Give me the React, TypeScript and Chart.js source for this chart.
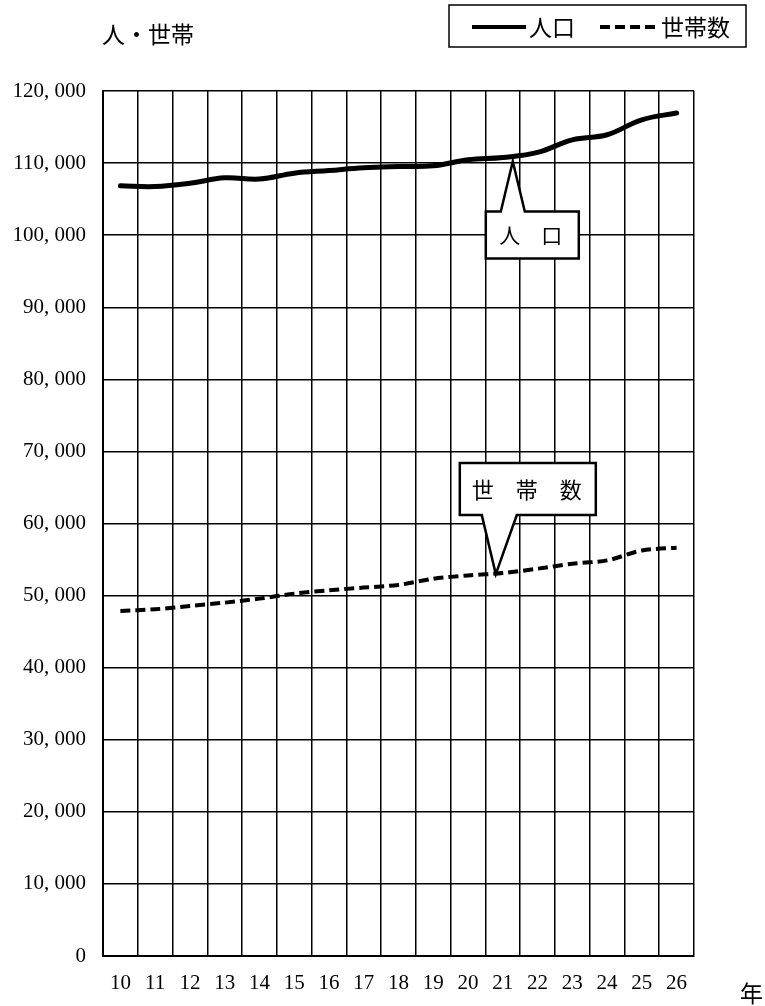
import { useEffect, useRef } from 'react';
import { Chart, registerables } from 'chart.js';

Chart.register(...registerables);

const years = ['10', '11', '12', '13', '14', '15', '16', '17', '18', '19', '20', '21', '22', '23', '24', '25', '26'];
const population = [106850, 106750, 107200, 107950, 107780, 108600, 108970, 109350, 109520, 109620, 110450, 110780, 111480, 113230, 113930, 116010, 116950];
const households = [47860, 48100, 48560, 49020, 49580, 50270, 50740, 51110, 51480, 52330, 52800, 53120, 53730, 54420, 54880, 56260, 56640];
const yMin = 0;
const yMax = 120000;
const yStep = 10000;
const popLabel = '人口';
const hhLabel = '世帯数';
const yTitle = '人・世帯';
const xTitle = '年';
const calloutIndex = 11;

const JP = '"Noto Sans CJK JP", "Noto Sans CJK SC", sans-serif';
const SERIF = '"Liberation Serif", "DejaVu Serif", serif';

export default function App() {
  const ref = useRef<HTMLCanvasElement>(null);

  useEffect(() => {
    const canvas = ref.current;
    if (!canvas) return;

    const overlay = {
      id: 'overlay',
      afterDatasetsDraw(chart: any) {
        const ctx = chart.ctx as CanvasRenderingContext2D;
        const xs = chart.scales.x;
        const ys = chart.scales.y;
        ctx.save();

        // Axis titles
        ctx.fillStyle = '#000';
        ctx.font = `23px ${JP}`;
        ctx.textBaseline = 'middle';
        ctx.textAlign = 'left';
        ctx.fillText(yTitle, 102, 34);
        ctx.fillText(xTitle, 740, 993);

        // Legend box
        ctx.lineWidth = 1.5;
        ctx.strokeStyle = '#000';
        ctx.strokeRect(449, 5, 297, 42);
        ctx.lineWidth = 4;
        ctx.beginPath();
        ctx.moveTo(472, 27);
        ctx.lineTo(526, 27);
        ctx.stroke();
        ctx.setLineDash([10, 5]);
        ctx.beginPath();
        ctx.moveTo(600, 27);
        ctx.lineTo(658, 27);
        ctx.stroke();
        ctx.setLineDash([]);
        ctx.font = `23px ${JP}`;
        ctx.fillText(popLabel, 529, 27);
        ctx.fillText(hhLabel, 661, 27);

        // Population callout
        const pX = xs.getPixelForValue(calloutIndex) + 10;
        const pY = ys.getPixelForValue(population[calloutIndex]) + 4;
        ctx.lineWidth = 2.5;
        ctx.lineJoin = 'miter';
        ctx.fillStyle = '#fff';
        ctx.beginPath();
        ctx.moveTo(pX - 27, pY + 50);
        ctx.lineTo(pX - 12, pY + 50);
        ctx.lineTo(pX, pY);
        ctx.lineTo(pX + 12, pY + 50);
        ctx.lineTo(pX + 66, pY + 50);
        ctx.lineTo(pX + 66, pY + 97);
        ctx.lineTo(pX - 27, pY + 97);
        ctx.closePath();
        ctx.fill();
        ctx.stroke();
        ctx.fillStyle = '#000';
        ctx.font = `21px ${JP}`;
        ctx.textAlign = 'center';
        ctx.fillText('人\u3000口', pX + 18, pY + 74);

        // Household callout
        const hX = xs.getPixelForValue(calloutIndex) - 7;
        const hY = ys.getPixelForValue(households[calloutIndex]) + 1;
        ctx.fillStyle = '#fff';
        ctx.beginPath();
        ctx.moveTo(hX - 36, hY - 111);
        ctx.lineTo(hX + 100, hY - 111);
        ctx.lineTo(hX + 100, hY - 59);
        ctx.lineTo(hX + 21, hY - 59);
        ctx.lineTo(hX, hY);
        ctx.lineTo(hX - 14, hY - 59);
        ctx.lineTo(hX - 36, hY - 59);
        ctx.closePath();
        ctx.fill();
        ctx.stroke();
        ctx.fillStyle = '#000';
        ctx.font = `22px ${JP}`;
        ctx.fillText('世\u3000帯\u3000数', hX + 31, hY - 84);

        ctx.restore();
      },
    };

    const chart = new Chart(canvas, {
      type: 'line',
      data: {
        labels: years,
        datasets: [
          {
            label: popLabel,
            data: population,
            borderColor: '#000',
            borderWidth: 5,
            tension: 0.4,
            pointRadius: 0,
            borderCapStyle: 'round',
            fill: false,
          },
          {
            label: hhLabel,
            data: households,
            borderColor: '#000',
            borderWidth: 4,
            borderDash: [10, 5],
            tension: 0.3,
            pointRadius: 0,
            fill: false,
          },
        ],
      },
      options: {
        responsive: false,
        animation: false,
        devicePixelRatio: 1,
        layout: { padding: { left: 0, top: 91, right: 71, bottom: 0 } },
        plugins: {
          legend: { display: false },
          tooltip: { enabled: false },
          title: { display: false },
        },
        scales: {
          x: {
            type: 'category',
            offset: true,
            grid: { offset: true, color: '#000', lineWidth: 1.5, drawTicks: false },
            border: { color: '#000', width: 2 },
            ticks: {
              color: '#000',
              padding: 15,
              maxRotation: 0,
              autoSkip: false,
              font: { family: SERIF, size: 21 },
            },
            afterFit: (s: any) => {
              s.height = 50;
            },
          },
          y: {
            min: yMin,
            max: yMax,
            grid: { color: '#000', lineWidth: 1.5, drawTicks: false },
            border: { color: '#000', width: 2 },
            ticks: {
              stepSize: yStep,
              color: '#000',
              padding: 17,
              font: { family: SERIF, size: 21 },
              callback: (v: any) => Number(v).toLocaleString('en-US').replace(',', ', '),
            },
            afterFit: (s: any) => {
              s.width = 103;
            },
          },
        },
      },
      plugins: [overlay],
    });

    return () => chart.destroy();
  }, []);

  return (
    <div style={{ position: 'absolute', left: 0, top: 0, width: 765, height: 1006, background: '#fff' }}>
      <canvas ref={ref} width={765} height={1006} style={{ width: 765, height: 1006, display: 'block' }} />
    </div>
  );
}
